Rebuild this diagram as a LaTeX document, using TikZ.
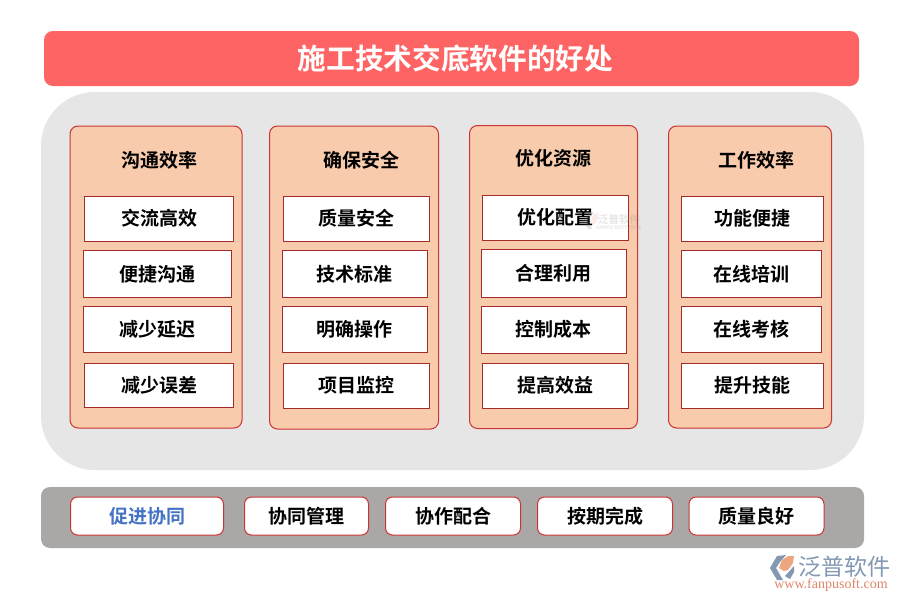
\documentclass[tikz,border=0pt]{standalone}
\usepackage{fontspec}
\setmainfont{Noto Sans CJK SC}[BoldFont=Noto Sans CJK SC Bold]
\newfontfamily\wwwfont{Liberation Serif}
\definecolor{titlered}{HTML}{FF6464}
\definecolor{panelgray}{HTML}{E7E6E6}
\definecolor{bargray}{HTML}{AAA8A6}
\definecolor{colfill}{HTML}{F8CBAD}
\definecolor{edgered}{HTML}{CC3333}
\definecolor{itemedge}{HTML}{A52A2A}
\definecolor{blueword}{HTML}{4472C4}
\definecolor{logoblue}{HTML}{8398B2}
\definecolor{logoorange}{HTML}{EDA77E}
\definecolor{urlred}{HTML}{E0866A}
\tikzset{
  x=1pt,y=-1pt,
  band/.style={inner sep=0pt,outer sep=0pt},
  colbox/.style={band,draw=edgered,line width=1pt,fill=colfill,rounded corners=8pt},
  itembox/.style={band,draw=itemedge,line width=1pt,fill=white,font=\fontsize{19}{21}\selectfont\bfseries,text=black},
  pillbox/.style={itembox,draw=edgered,rounded corners=7pt},
  coltitle/.style={band,font=\fontsize{19}{21}\selectfont\bfseries,text=black},
}
\begin{document}
\begin{tikzpicture}
\useasboundingbox (0,0) rectangle (900,600);
\fill[white] (0,0) rectangle (900,600);
% title
\node[band,fill=titlered,rounded corners=9pt,minimum width=815pt,minimum height=55pt] (title) at (451.5,58.5) {};
\node[band,text=white,font=\fontsize{28.7}{32}\selectfont\bfseries] (titletext) at (455.5,58.5) {施工技术交底软件的好处};
% panels
\node[band,fill=panelgray,rounded corners=54pt,minimum width=823pt,minimum height=378pt] (panel) at (452.5,281) {};
\node[band,fill=bargray,rounded corners=9pt,minimum width=823pt,minimum height=61pt] (bar) at (452.5,517.5) {};
% columns
\node[colbox,minimum width=172pt,minimum height=302pt] (c1) at (156,277) {};
\node[colbox,minimum width=169pt,minimum height=303pt] (c2) at (354,277.5) {};
\node[colbox,minimum width=168pt,minimum height=303pt] (c3) at (553.5,277) {};
\node[colbox,minimum width=163pt,minimum height=302pt] (c4) at (750,277) {};
\node[coltitle] (t1) at (159,160) {沟通效率};
\node[coltitle] (t2) at (361,160) {确保安全};
\node[coltitle] (t3) at (553,158) {优化资源};
\node[coltitle] (t4) at (756,160) {工作效率};
% column 1
\node[itembox,minimum width=149pt,minimum height=45pt] (a1) at (159,218.5) {交流高效};
\node[itembox,minimum width=148pt,minimum height=47pt] (a2) at (157.5,274) {便捷沟通};
\node[itembox,minimum width=148pt,minimum height=46pt] (a3) at (157.5,329.5) {减少延迟};
\node[itembox,minimum width=149pt,minimum height=44pt] (a4) at (159,385.5) {减少误差};
% column 2
\node[itembox,minimum width=146pt,minimum height=45pt] (b1) at (356,218.5) {质量安全};
\node[itembox,minimum width=145pt,minimum height=47pt] (b2) at (354.5,274) {技术标准};
\node[itembox,minimum width=145pt,minimum height=46pt] (b3) at (354.5,329.5) {明确操作};
\node[itembox,minimum width=146pt,minimum height=45pt] (b4) at (356,385.5) {项目监控};
% column 3
\node[itembox,minimum width=146pt,minimum height=45pt] (d1) at (555,217.5) {优化配置};
\node[itembox,minimum width=145pt,minimum height=48pt] (d2) at (553.5,273) {合理利用};
\node[itembox,minimum width=145pt,minimum height=47pt] (d3) at (553.5,329.5) {控制成本};
\node[itembox,minimum width=146pt,minimum height=45pt] (d4) at (555,385.5) {提高效益};
% column 4
\node[itembox,minimum width=142pt,minimum height=45pt] (e1) at (752.5,218.5) {功能便捷};
\node[itembox,minimum width=140pt,minimum height=47pt] (e2) at (751,274) {在线培训};
\node[itembox,minimum width=140pt,minimum height=46pt] (e3) at (751,329.5) {在线考核};
\node[itembox,minimum width=142pt,minimum height=45pt] (e4) at (752.5,385.5) {提升技能};
% bottom pills
\node[pillbox,minimum width=153pt,minimum height=38pt,text=blueword] (p1) at (147,516) {促进协同};
\node[pillbox,minimum width=124pt,minimum height=38pt] (p2) at (306.5,516) {协同管理};
\node[pillbox,minimum width=135pt,minimum height=38pt] (p3) at (453,516) {协作配合};
\node[pillbox,minimum width=135pt,minimum height=38pt] (p4) at (605,516) {按期完成};
\node[pillbox,minimum width=135pt,minimum height=38pt] (p5) at (756.5,516) {质量良好};
% watermark
\begin{scope}[opacity=0.2]
\fill[gray] (583,221) -- (590,212) -- (594,212) -- (588,221) -- (592,229) -- (588,229) -- cycle;
\fill[logoorange] (590,221) -- (594,214) -- (598,213) -- (598,220) -- (593,225) -- cycle;
\node[band,text=gray,font=\fontsize{10.5}{11}\selectfont\bfseries] (wm) at (619,219) {泛普软件};
\node[band,text=gray,font=\fontsize{5}{6}\selectfont\bfseries] (wmsub) at (619,228) {FANPU SOFTWARE};
\end{scope}
% logo
\fill[logoblue] (770,568) -- (777,556) -- (786,555) -- (780,562) -- (776,568) -- (783,580) -- (777,580) -- cycle;
\fill[logoorange] (779,568) -- (782,560) -- (788,556) -- (794,556) -- (793,563) -- (788,570) -- (784,571) -- cycle;
\fill[logoblue] (785,576) -- (794,566) -- (794,572) -- (790,579) -- cycle;
\node[band,text=logoblue,font=\fontsize{23}{25}\selectfont] (brand) at (844,567) {泛普软件};
\node[band,text=urlred,font=\wwwfont\fontsize{14}{16}\selectfont] (url) at (831,585) {www.fanpusoft.com};
\end{tikzpicture}
\end{document}
